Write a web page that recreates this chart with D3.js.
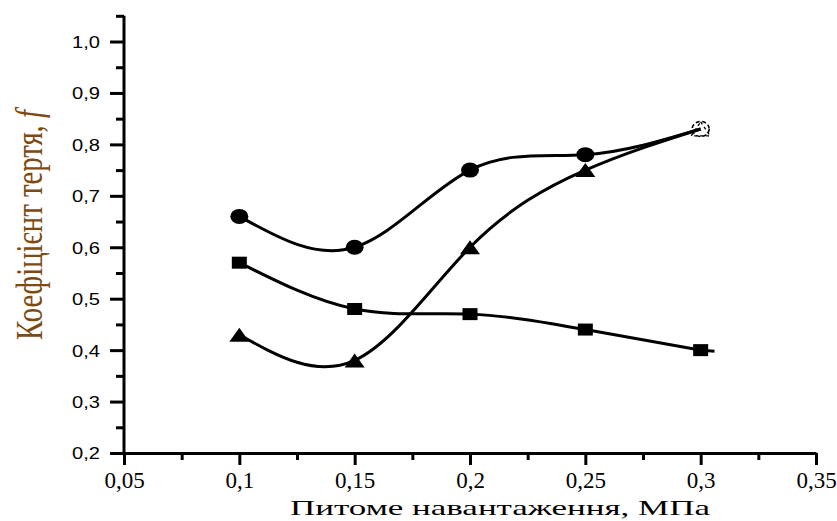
<!DOCTYPE html>
<html><head><meta charset="utf-8">
<script src="https://cdn.jsdelivr.net/npm/d3@7"></script>
<style>body{margin:0;background:#fff}svg{display:block}</style>
</head><body><svg id="c" width="837" height="521"></svg>
<script>
// ---- data ----
const loads = [0.1, 0.15, 0.2, 0.25, 0.3];
const circleSeries = [0.66, 0.60, 0.75, 0.78, 0.83];
const squareSeries = [0.57, 0.48, 0.47, 0.44, 0.40];
const triangleSeries = [0.43, 0.38, 0.60, 0.75, 0.83];
const squareTail = [0.306, 0.398];
const xTicks = [0.05, 0.1, 0.15, 0.2, 0.25, 0.3, 0.35];
const xTickLabels = ["0,05", "0,1", "0,15", "0,2", "0,25", "0,3", "0,35"];
const xMinorTicks = [0.075, 0.125, 0.175, 0.225, 0.275, 0.325];
const yTicks = [0.2, 0.3, 0.4, 0.5, 0.6, 0.7, 0.8, 0.9, 1.0];
const yTickLabels = ["0,2", "0,3", "0,4", "0,5", "0,6", "0,7", "0,8", "0,9", "1,0"];
const yMinorTicks = [0.25, 0.35, 0.45, 0.55, 0.65, 0.75, 0.85, 0.95, 1.05];
const xTitle = "Питоме навантаження, МПа";
const yTitle = "Коефіцієнт тертя, ";
const yTitleItalic = "f";

const svg = d3.select("#c");
svg.append("rect").attr("width", 837).attr("height", 521).attr("fill", "#fff");
const x = d3.scaleLinear().domain([0.05, 0.35]).range([124, 816]);
const y = d3.scaleLinear().domain([0.2, 1.05]).range([453, 15.8]);

const SERIF = "'Liberation Serif', 'Times New Roman', serif";
const SANS = "'Liberation Sans', Arial, sans-serif";

function styleAxis(g) {
  g.attr("font-size", null).attr("font-family", null);
  g.selectAll("line").attr("stroke", "#000").attr("stroke-width", 3);
  g.selectAll(".domain").attr("stroke", "#000").attr("stroke-width", 3);
}

// minor ticks
svg.append("g").attr("transform", "translate(124,0)")
  .call(d3.axisLeft(y).tickValues(yMinorTicks).tickSize(8).tickSizeOuter(0).tickFormat(""))
  .call(styleAxis).call(g => { g.select(".domain").remove(); g.selectAll("text").remove(); });
svg.append("g").attr("transform", "translate(0,453)")
  .call(d3.axisBottom(x).tickValues(xMinorTicks).tickSize(7).tickSizeOuter(0).tickFormat(""))
  .call(styleAxis).call(g => { g.select(".domain").remove(); g.selectAll("text").remove(); });

// major y axis
const gy = svg.append("g").attr("transform", "translate(124,0)")
  .call(d3.axisLeft(y).tickValues(yTicks).tickSize(14).tickSizeOuter(0).tickFormat((d, i) => yTickLabels[i]))
  .call(styleAxis);
gy.selectAll("text").attr("x", 0).attr("dy", "0.36em")
  .attr("transform", "translate(-24,0) scale(1.22,1)")
  .attr("fill", "#000").attr("font-family", SANS).attr("font-size", 16.5)
  .style("font-family", SANS).style("font-size", "16.5px");
gy.select(".domain").attr("d", `M0,${y(1.05)}V${y(0.2)}`);

// major x axis
const gx = svg.append("g").attr("transform", "translate(0,453)")
  .call(d3.axisBottom(x).tickValues(xTicks).tickSize(12).tickSizeOuter(0).tickFormat((d, i) => xTickLabels[i]))
  .call(styleAxis);
gx.selectAll("text").attr("y", 35).attr("dy", 0)
  .attr("fill", "#000").attr("font-family", SERIF).attr("font-size", 23)
  .style("font-family", SERIF).style("font-size", "23px");

// titles
const xt = svg.append("text").attr("text-anchor", "middle")
  .attr("font-family", SERIF).attr("font-size", 22)
  .style("font-family", SERIF).style("font-size", "22px")
  .attr("fill", "#000").text(xTitle);
const xtLen = xt.node().getComputedTextLength();
xt.attr("transform", `translate(500,515) scale(${420 / xtLen},1)`);

const yt = svg.append("text").attr("text-anchor", "middle")
  .attr("font-family", SERIF).attr("font-size", 27)
  .style("font-family", SERIF).style("font-size", "27px")
  .attr("fill", "#7d4a12");
yt.append("tspan").text(yTitle);
yt.append("tspan").style("font-style", "italic").text(yTitleItalic);
const ytLen = yt.node().getComputedTextLength();
yt.attr("transform", `translate(42,225) scale(1.4,${230 / ytLen}) rotate(-90)`);

// lines
const line = d3.line().x(d => x(d[0])).y(d => y(d[1])).curve(d3.curveNatural);
const series = [
  { vals: circleSeries, shape: "circle" },
  { vals: squareSeries, shape: "square" },
  { vals: triangleSeries, shape: "triangle" }
];
const lg = svg.append("g");
series.forEach(s => {
  const pts = loads.map((l, i) => [l, s.vals[i]]);
  lg.append("path").attr("d", line(pts)).attr("fill", "none")
    .attr("stroke", "#000").attr("stroke-width", 3).attr("stroke-linejoin", "round");
});
lg.append("path")
  .attr("d", d3.line().x(d => x(d[0])).y(d => y(d[1]))([[loads[4], squareSeries[4]], squareTail]))
  .attr("fill", "none").attr("stroke", "#000").attr("stroke-width", 3);

// markers
const mg = svg.append("g");
function triPath(cx, cy, w, h) {
  return `M${cx},${cy - h / 2}L${cx + w / 2},${cy + h / 2}L${cx - w / 2},${cy + h / 2}Z`;
}
loads.forEach((l, i) => {
  const last = i === loads.length - 1;
  const cx = x(l);
  if (!last) {
    mg.append("ellipse").attr("cx", cx).attr("cy", y(circleSeries[i])).attr("rx", 9).attr("ry", 7.5).attr("fill", "#000");
    mg.append("path").attr("d", triPath(cx, y(triangleSeries[i]), 20, 14)).attr("fill", "#000");
  } else {
    mg.append("ellipse").attr("cx", cx).attr("cy", y(circleSeries[i])).attr("rx", 8.5).attr("ry", 7.5)
      .attr("fill", "none").attr("stroke", "#000").attr("stroke-width", 1.6).attr("stroke-dasharray", "4,2.5");
    mg.append("path").attr("d", triPath(cx, y(triangleSeries[i]), 19, 14))
      .attr("fill", "none").attr("stroke", "#000").attr("stroke-width", 1.3).attr("stroke-dasharray", "3,3");
  }
  mg.append("rect").attr("x", cx - 7.5).attr("y", y(squareSeries[i]) - 6).attr("width", 15).attr("height", 12).attr("fill", "#000");
});
</script></body></html>
